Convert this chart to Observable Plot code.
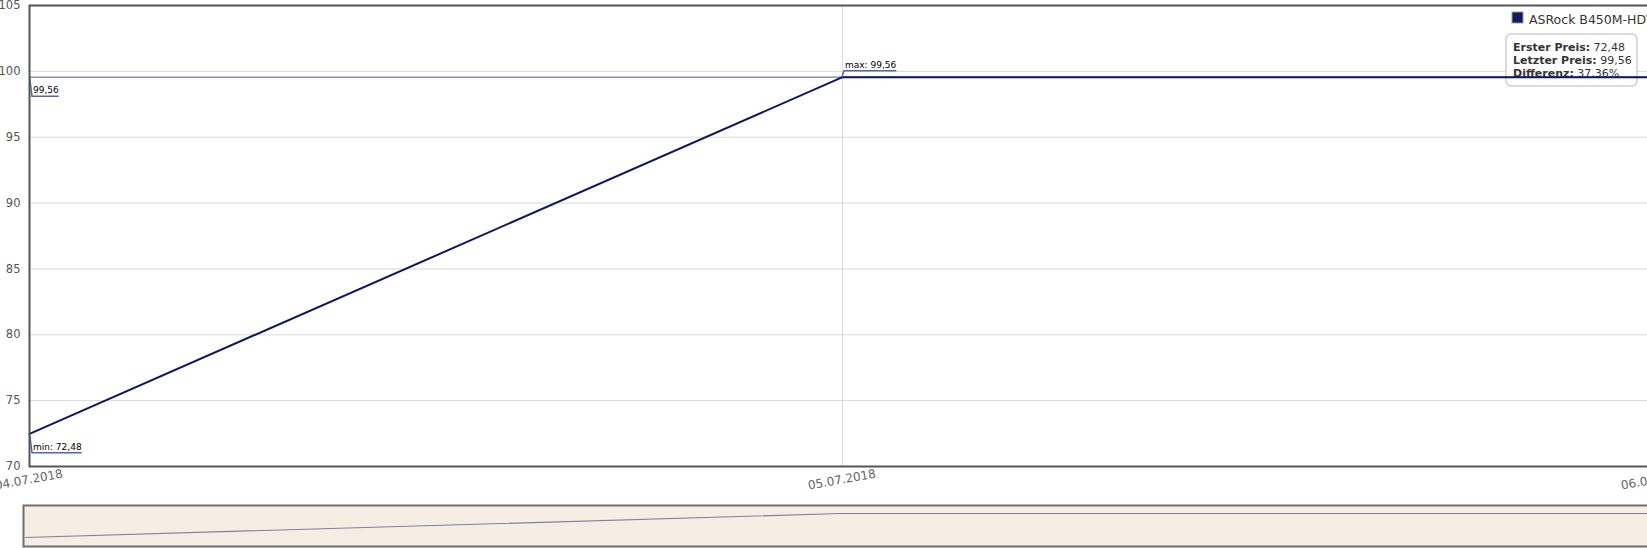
<!DOCTYPE html>
<html>
<head>
<meta charset="utf-8">
<script src="https://cdn.jsdelivr.net/npm/d3@7"></script>
<script src="https://cdn.jsdelivr.net/npm/@observablehq/plot@0.6"></script>
<style>
  html, body { margin: 0; padding: 0; background: #fff; overflow: hidden; width: 1647px; height: 548px; }
  #chart svg { display: block; }
</style>
</head>
<body>
<div id="chart"></div>
<script>
// ---- data ----
const dates = ["2018-07-04", "2018-07-05", "2018-07-06"];
const prices = [72.48, 99.56, 99.56];
const seriesName = "ASRock B450M-HDV R4.0";
const yTicks = [70, 75, 80, 85, 90, 95, 100, 105];
const xTicks = ["2018-07-04", "2018-07-05", "2018-07-06"];
const xTickLabels = ["04.07.2018", "05.07.2018", "06.07.2018"];
const annDates = ["2018-07-04", "2018-07-04", "2018-07-05"];
const annValues = [99.56, 72.48, 99.56];
const annLabels = ["99,56", "min: 72,48", "max: 99,56"];
const annBelow = [true, true, false];
const infoLabels = ["Erster Preis:", "Letzter Preis:", "Differenz:"];
const infoValues = ["72,48", "99,56", "37,36%"];

// ---- derived tables ----
const series = dates.map((d, i) => ({date: new Date(d), price: prices[i]}));
const xTickData = xTicks.map((d, i) => ({date: new Date(d), label: xTickLabels[i]}));
const gridY = yTicks.filter(t => t > yTicks[0] && t < yTicks[yTicks.length - 1]);
const lastPrice = prices[prices.length - 1];

const FONT = "DejaVu Sans";
const mctx = document.createElement("canvas").getContext("2d");
mctx.font = `9px '${FONT}'`;

function infoAndLegend(index, scales, values, dims) {
  const right = dims.width - dims.marginRight;
  const top = dims.marginTop;
  const g = d3.create("svg:g").attr("font-family", FONT).attr("text-anchor", "start");
  // info box
  const bx = right - 149, by = top + 29;
  g.append("rect").attr("x", bx).attr("y", by).attr("width", 131).attr("height", 52)
    .attr("rx", 5).attr("fill", "#ffffff").attr("fill-opacity", 0.95)
    .attr("stroke", "#cfcfcf").attr("stroke-width", 1.5);
  infoLabels.forEach((lab, i) => {
    const t = g.append("text").attr("x", bx + 7).attr("y", by + 17 + i * 13)
      .attr("text-anchor", "start").attr("font-size", 11).attr("fill", "#333");
    t.append("tspan").attr("font-weight", "bold").text(lab);
    t.append("tspan").text(" " + infoValues[i]);
  });
  // legend
  g.append("rect").attr("x", right - 143).attr("y", top + 7).attr("width", 11).attr("height", 11)
    .attr("fill", "#0f1a5c").attr("stroke", "#999").attr("stroke-width", 1);
  g.append("text").attr("x", right - 126).attr("y", top + 19).attr("text-anchor", "start")
    .attr("font-size", 12.5).attr("fill", "#333").text(seriesName);
  return g.node();
}

function callouts(index, scales, values, dims) {
  const g = d3.create("svg:g").attr("font-family", FONT).attr("text-anchor", "start");
  annDates.forEach((d, i) => {
    const px = scales.x(new Date(d)), py = scales.y(annValues[i]);
    const w = mctx.measureText(annLabels[i]).width + 1;
    let path, tx, ty;
    if (annBelow[i]) {
      path = `M${px + 0.5},${py}L${px + 3},${py + 19.5}H${px + 3 + w}`;
      tx = px + 4; ty = py + 16.5;
    } else {
      path = `M${px},${py}L${px + 2},${py - 6}H${px + 2 + w}`;
      tx = px + 3; ty = py - 9;
    }
    g.append("path").attr("d", path).attr("fill", "none")
      .attr("stroke", "#5566a6").attr("stroke-width", 1.5);
    g.append("text").attr("x", tx).attr("y", ty).attr("text-anchor", "start").attr("font-size", 9)
      .attr("fill", "#000").text(annLabels[i]);
  });
  return g.node();
}

const main = Plot.plot({
  width: 1700,
  height: 500,
  marginLeft: 29,
  marginRight: 45,
  marginTop: 5,
  marginBottom: 34,
  style: {fontFamily: FONT, fontSize: "11.5px", background: "transparent", maxWidth: "none"},
  x: {type: "utc", domain: [xTickData[0].date, xTickData[xTickData.length - 1].date], axis: null},
  y: {domain: [yTicks[0], yTicks[yTicks.length - 1]], axis: null},
  marks: [
    Plot.ruleY(gridY, {stroke: "#d8d8d8", strokeWidth: 1}),
    Plot.ruleX(xTickData.slice(1), {x: "date", stroke: "#d8d8d8", strokeWidth: 1}),
    infoAndLegend,
    Plot.ruleY([lastPrice], {stroke: "#4d5a9c", strokeWidth: 1}),
    Plot.line(series, {x: "date", y: "price", stroke: "#0c1662", strokeWidth: 2}),
    callouts,
    Plot.frame({stroke: "#555", strokeWidth: 2}),
    Plot.text(yTicks, {y: d => d, frameAnchor: "left", dx: -9, textAnchor: "end", fill: "#555", fontSize: 11.5}),
    Plot.text(xTickData, {x: "date", text: "label", frameAnchor: "bottom", dy: 17, rotate: -10, fill: "#666", fontSize: 12})
  ]
});

const nav = Plot.plot({
  width: 1700,
  height: 48,
  marginLeft: 23,
  marginRight: 45,
  marginTop: 5,
  marginBottom: 2,
  style: {fontFamily: FONT, background: "transparent", maxWidth: "none"},
  x: {type: "utc", domain: [xTickData[0].date, xTickData[xTickData.length - 1].date], range: [25, 1655], axis: null},
  y: {domain: d3.extent(prices), range: [37, 13], axis: null},
  marks: [
    Plot.frame({fill: "#f6eee3", stroke: "#6e6e6e", strokeWidth: 2}),
    Plot.line(series, {x: "date", y: "price", stroke: "#7d80aa", strokeWidth: 1.2})
  ]
});

document.getElementById("chart").append(main, nav);
</script>
</body>
</html>
